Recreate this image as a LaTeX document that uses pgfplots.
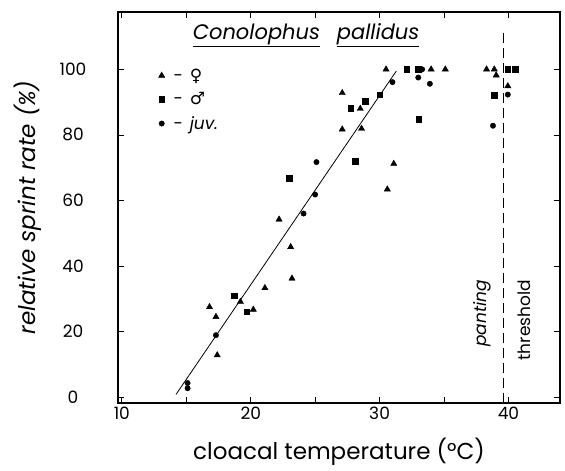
\documentclass[border=0pt]{standalone}
\usepackage{fontspec}
\setmainfont{Poppins}
\newfontfamily\symfont{DejaVu Sans}
\usepackage{pgfplots}
\pgfplotsset{compat=1.18}

\begin{document}
\begin{tikzpicture}
\begin{axis}[
  scale only axis, width=442pt, height=391pt,
  xmin=9.7, xmax=44, ymin=-1.8, ymax=117.5,
  xtick={10,15,...,40}, xticklabels={10,,20,,30,,40},
  ytick={0,20,...,100},
  tick align=inside, major tick length=6pt,
  axis line style={line width=1.1pt},
  tick style={line width=0.8pt, black},
  ticklabel style={font=\fontsize{17}{17}\selectfont},
  y tick label style={anchor=center, xshift=-45pt},
  /pgf/number format/assume math mode=true,
  xlabel={cloacal temperature (°C)},
  ylabel={\itshape relative sprint rate (\%)},
  label style={font=\fontsize{23}{23}\selectfont},
  xlabel style={at={(axis description cs:0.5,-0.125)}, anchor=center},
  ylabel style={at={(axis description cs:-0.205,0.5)}, anchor=center},
  clip=false,
  legend style={draw=none, fill=none, at={(axis cs:12.6,101.5)}, anchor=north west,
    font=\fontsize{17}{17}\selectfont, row sep=6pt},
  legend cell align=left,
]
% females
\addplot[only marks, mark=triangle*, mark size=3.6pt, black] coordinates {
  (30.5,100)(34.0,100)(35.1,100)(38.3,100)(38.9,100)(39.05,98.2)(39.95,94.9)
  (28.5,88.0)(27.1,92.8)(27.1,81.7)(28.6,81.9)(31.1,71.2)(30.6,63.4)
  (22.2,54.2)(23.1,45.8)(23.2,36.2)(21.1,33.3)(19.2,29.1)(20.2,26.7)
  (16.8,27.5)(17.3,24.5)(17.4,12.8)
};
% males
\addplot[only marks, mark=square*, mark size=2.8pt, black] coordinates {
  (32.1,100)(33.0,100)(39.95,100)(40.5,100)(38.9,92.1)(33.05,84.7)
  (30.0,92.3)(28.9,90.2)(27.75,88.2)(28.1,71.9)(23.0,66.7)(18.7,30.9)(19.7,26.0)
};
% juveniles
\addplot[only marks, mark=*, mark size=2.7pt, black] coordinates {
  (33.3,100)(33.0,97.5)(33.9,95.6)(31.0,96.1)(39.95,92.3)(38.8,82.8)
  (25.1,71.7)(25.0,61.8)(24.1,56.0)(17.3,18.9)(15.1,4.3)(15.1,2.7)
};
\legend{{\hspace{0.4em}-\hspace{0.4em}\symfont\bfseries ♀},
        {\hspace{0.4em}-\hspace{0.4em}\symfont\bfseries ♂},
        {\hspace{0.4em}-\hspace{0.4em}\itshape juv.}}
% regression line
\addplot[black, line width=0.8pt, forget plot] coordinates {(14.2,0.8)(31.3,99.5)};
% panting threshold
\addplot[black, line width=0.8pt, dash pattern=on 10pt off 5pt, forget plot]
  coordinates {(39.6,-1.8)(39.6,111)};
\node[font=\fontsize{21}{21}\selectfont\itshape] at (axis cs:24.3,110.5)
  {\underline{Conolophus}\hspace{0.8em}\underline{pallidus}};
\node[rotate=90, font=\fontsize{17}{17}\selectfont\itshape] at (axis cs:38.0,25.6) {panting};
\node[rotate=90, font=\fontsize{17}{17}\selectfont] at (axis cs:41.2,23.5) {threshold};
\path (rel axis cs:0,0) ++(-118pt,-68pt) rectangle ++(565pt,471pt);
\end{axis}
\end{tikzpicture}
\end{document}
